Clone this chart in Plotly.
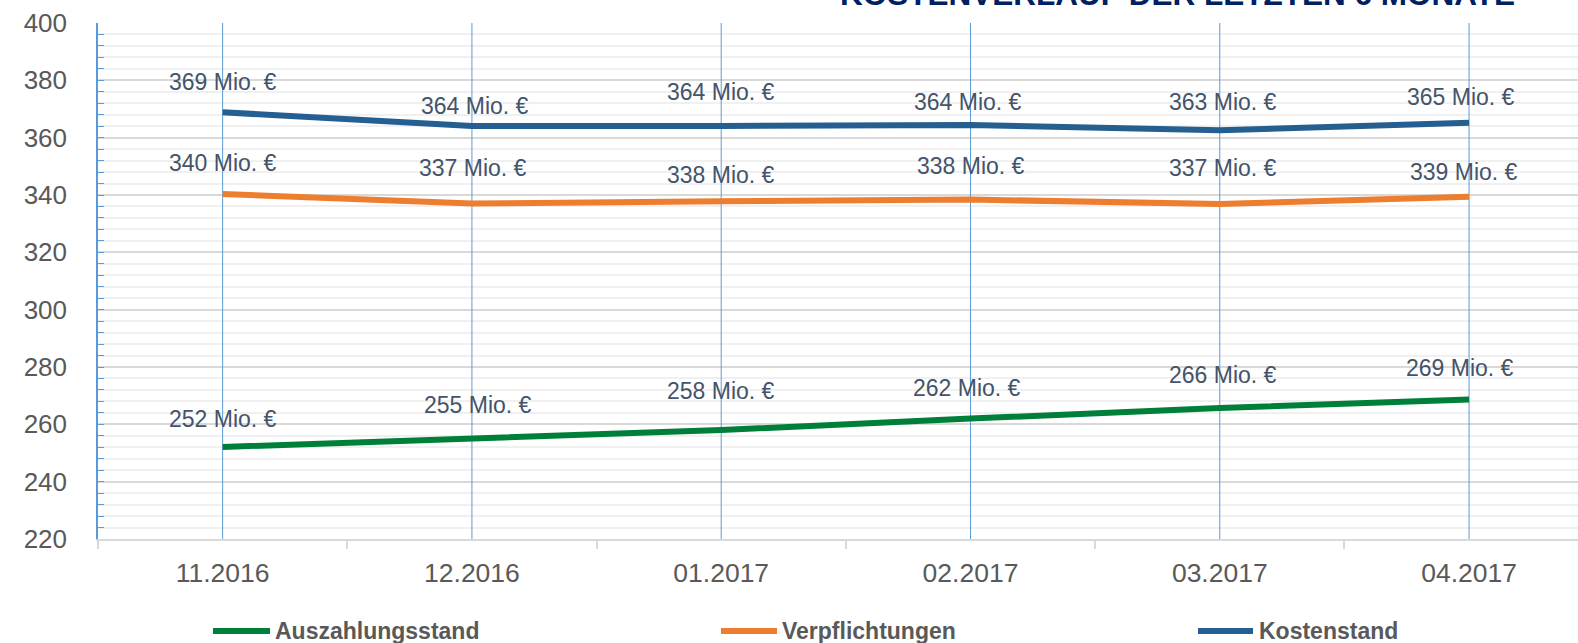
import plotly.graph_objects as go

# ---------------- data ----------------
CATEGORIES = ["11.2016", "12.2016", "01.2017", "02.2017", "03.2017", "04.2017"]
AUSZAHLUNGSSTAND = [252.1, 255.1, 258.0, 262.0, 265.7, 268.7]
VERPFLICHTUNGEN = [340.35, 337.0, 337.8, 338.4, 336.9, 339.4]
KOSTENSTAND = [368.85, 364.1, 364.1, 364.4, 362.6, 365.2]
SERIES_NAMES = ["Auszahlungsstand", "Verpflichtungen", "Kostenstand"]
Y_TICKS = [220, 240, 260, 280, 300, 320, 340, 360, 380, 400]
TITLE = "KOSTENVERLAUF DER LETZTEN 6 MONATE"
LABEL_UNIT = "Mio. €"

# ---------------- styles ----------------
W, H = 1578, 643
ML, MR, MT, MB = 98, 0, 23, 104
FONT = "Liberation Sans, Arial, sans-serif"
COLORS = ["#007F3A", "#ED7D31", "#255E91"]
LABEL_COLOR = "#44546A"
TICK_COLOR = "#595959"
BLUE_GRID = "#5B9BD5"
# per-label pixel offsets (label placement as in the reference)
LABEL_YSHIFT = [[28, 33, 39, 31, 33, 31],
                [31, 36, 26, 34, 36, 25],
                [30, 20, 34, 23, 28, 26]]
LABEL_XSHIFT = [[0, 6, 0, -3, 3, -9],
                [0, 1, 0, 1, 3, -5],
                [0, 3, 0, -2, 3, -8]]
# legend layout in page pixels: (line start, line end, text start)
LEGEND_POS = [(213, 270, 273), (721, 777, 780), (1198, 1253, 1257)]
LEGEND_Y = 631

plot_w = W - ML - MR
plot_h = H - MT - MB


def px_x(px):
    return (px - ML) / plot_w


def px_y(py):
    return (H - MB - py) / plot_h


series = [AUSZAHLUNGSSTAND, VERPFLICHTUNGEN, KOSTENSTAND]

fig = go.Figure()

# vertical category gridlines (drawn as a trace so they sit above the grid, below data)
vx, vy = [], []
for c in CATEGORIES:
    vx += [c, c, None]
    vy += [min(Y_TICKS), max(Y_TICKS), None]
fig.add_trace(go.Scatter(x=vx, y=vy, mode="lines", line=dict(color=BLUE_GRID, width=1),
                         showlegend=False, hoverinfo="skip", cliponaxis=False))

for name, vals, col in zip(SERIES_NAMES, series, COLORS):
    fig.add_trace(go.Scatter(x=CATEGORIES, y=vals, mode="lines", name=name,
                             line=dict(color=col, width=6), showlegend=False,
                             hoverinfo="skip"))

# data labels (x given as category index so "11.2016" is not read as a number)
for si, vals in enumerate(series):
    for i, v in enumerate(vals):
        fig.add_annotation(x=i, y=v, xref="x", yref="y", showarrow=False,
                           text=f"{round(v)} {LABEL_UNIT}",
                           yshift=LABEL_YSHIFT[si][i], xshift=LABEL_XSHIFT[si][i],
                           font=dict(family=FONT, size=23, color=LABEL_COLOR))

# title (partially cut off at the top, as in the reference)
fig.add_annotation(x=px_x(1177), y=1, xref="paper", yref="paper", showarrow=False,
                   xanchor="center", yanchor="middle", yshift=29,
                   text=f"<b>{TITLE}</b>",
                   font=dict(family=FONT, size=31.5, color="#002060"))

# manual legend
for (x0, x1, xt), name, col in zip(LEGEND_POS, SERIES_NAMES, COLORS):
    fig.add_shape(type="line", xref="paper", yref="paper",
                  x0=px_x(x0), x1=px_x(x1), y0=px_y(LEGEND_Y), y1=px_y(LEGEND_Y),
                  line=dict(color=col, width=6))
    fig.add_annotation(x=px_x(xt), y=px_y(LEGEND_Y), xref="paper", yref="paper",
                       xanchor="left", yanchor="middle", showarrow=False,
                       text=f"<b>{name}</b>",
                       font=dict(family=FONT, size=23, color="#595959"))

fig.update_layout(
    width=W, height=H,
    margin=dict(l=ML, r=MR, t=MT, b=MB, pad=0),
    paper_bgcolor="white", plot_bgcolor="white",
    font=dict(family=FONT),
    xaxis=dict(type="category", categoryorder="array", categoryarray=CATEGORIES,
               range=[-0.5, 5.437], tickson="boundaries", ticks="outside",
               ticklen=8, tickwidth=2, tickcolor="#D9D9D9",
               showgrid=False, showline=True, linecolor="#D9D9D9", linewidth=2,
               tickfont=dict(family=FONT, size=26.5, color=TICK_COLOR),
               ticklabelstandoff=9, zeroline=False),
    yaxis=dict(range=[220, 400], tickvals=Y_TICKS, showgrid=True,
               gridcolor="#D9D9D9", gridwidth=2,
               minor=dict(dtick=4, tick0=220, showgrid=True, gridcolor="#F0F0F0",
                          gridwidth=2, ticks="inside", ticklen=6,
                          tickcolor=BLUE_GRID, tickwidth=1),
               ticks="inside", ticklen=6, tickcolor=BLUE_GRID, tickwidth=1,
               showline=True, linecolor=BLUE_GRID, linewidth=1.5,
               tickfont=dict(family=FONT, size=26, color=TICK_COLOR),
               ticklabelstandoff=24, zeroline=False),
)

fig.write_html("out.html", config={"displayModeBar": False},
               post_script="document.body.style.margin='0';document.body.style.overflow='hidden';")
